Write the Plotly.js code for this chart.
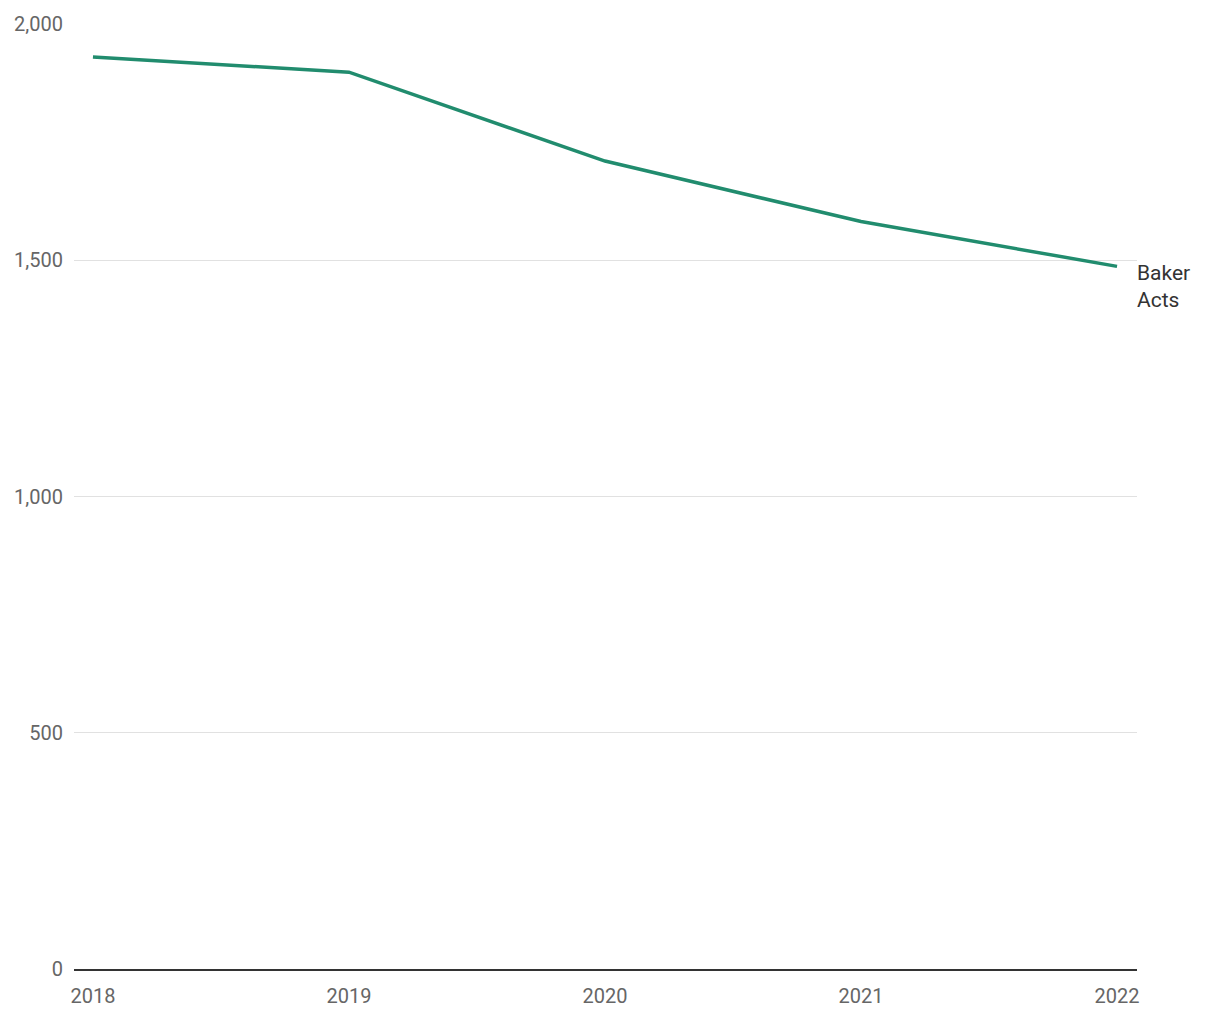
<!DOCTYPE html>
<html>
<head>
<meta charset="utf-8">
<script src="https://cdn.plot.ly/plotly-3.0.1.min.js"></script>
<style>html,body{margin:0;padding:0;background:#fff}#chart{width:1220px;height:1020px}</style>
</head>
<body>
<div id="chart"></div>
<script>
const years = [2018, 2019, 2020, 2021, 2022];
const bakerActs = [1930, 1898, 1710, 1582, 1487];
const seriesName = "Baker<br>Acts";
const yTicks = [0, 500, 1000, 1500, 2000];
const yTickLabels = ["0", "500", "1,000", "1,500", "2,000"];

const font = "Roboto, 'Roboto Condensed', sans-serif";
const data = [{
  x: years, y: bakerActs, type: "scatter", mode: "lines",
  line: {color: "#218c6e", width: 3.5}, hoverinfo: "skip", showlegend: false
}];
const layout = {
  width: 1220, height: 1020,
  margin: {l: 74, r: 83, t: 24, b: 51},
  paper_bgcolor: "#fff", plot_bgcolor: "#fff",
  font: {family: font, size: 20, color: "#666"},
  xaxis: {
    range: [2017.926, 2022.078], tickvals: years, ticktext: years.map(String),
    showgrid: false, zeroline: false, showline: true, linecolor: "#333", linewidth: 2,
    ticks: "", ticklen: 0, ticklabelstandoff: 8, tickfont: {family: font, size: 20, color: "#666"}
  },
  yaxis: {
    range: [0, 2000], tickvals: yTicks, ticktext: yTickLabels,
    showgrid: true, gridcolor: "#e1e1e1", gridwidth: 1, zeroline: false, showline: false,
    ticks: "", ticklen: 0, ticklabelstandoff: 10, tickfont: {family: font, size: 20, color: "#666"}
  },
  annotations: [{
    xref: "paper", x: 1, xanchor: "left", xshift: -2, yref: "y", y: bakerActs[bakerActs.length - 1],
    yanchor: "middle", yshift: -20, text: seriesName, showarrow: false, align: "left",
    font: {family: font, size: 21, color: "#333"}
  }]
};
Plotly.newPlot("chart", data, layout, {displayModeBar: false, staticPlot: true});
</script>
</body>
</html>
